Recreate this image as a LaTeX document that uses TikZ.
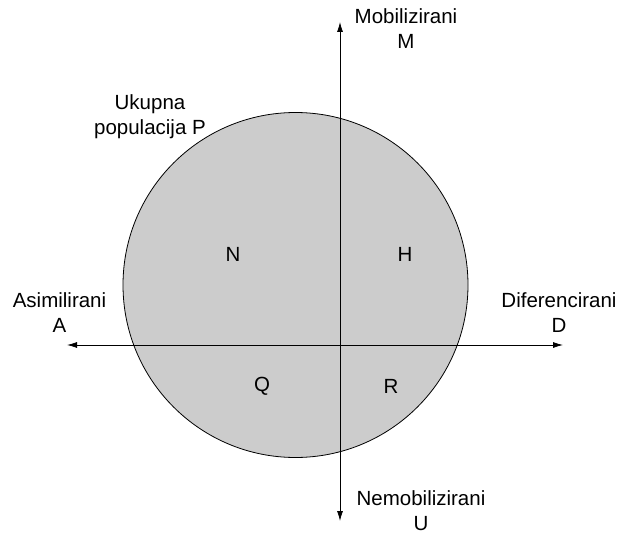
\documentclass[tikz,border=0pt]{standalone}
\usepackage{fontspec}
\setmainfont{Liberation Sans}
\usetikzlibrary{arrows.meta}

\begin{document}
\begin{tikzpicture}[x=1pt, y=-1pt, >={Latex[length=10pt, width=6pt]}, line width=0.8pt,
		lbl/.style={align=center, font=\fontsize{20.5}{25}\selectfont, inner sep=0pt},
		part/.style={font=\fontsize{20.5}{24}\selectfont, inner sep=0pt}]
		\useasboundingbox (0, 0) rectangle (619, 535);
		\node[circle, draw=black, fill=gray!40, minimum size=345pt, inner sep=0pt] (P) at (295.5, 285) {};
		
		\coordinate (top) at (340, 22);
		\coordinate (bot) at (340, 521);
		\coordinate (left) at (67, 345);
		\coordinate (right) at (563, 345);
		\draw[<->] (bot) -- (top);
		\draw[<->] (left) -- (right);
		
		\node[lbl] (M) at (406, 29) {Mobilizirani\\M};
		\node[lbl] (U) at (421, 511) {Nemobilizirani\\U};
		\node[lbl] (A) at (59.5, 313) {Asimilirani\\A};
		\node[lbl] (D) at (559, 313) {Diferencirani\\D};
		\node[lbl] (Pl) at (150, 117) {Ukupna\\populacija P};
		
		\node[part] (N) at (233, 254) {N};
		\node[part] (H) at (405, 254) {H};
		\node[part] (Q) at (262, 386) {Q};
		\node[part] (R) at (391, 386) {R};
		
	\end{tikzpicture}
\end{document}
